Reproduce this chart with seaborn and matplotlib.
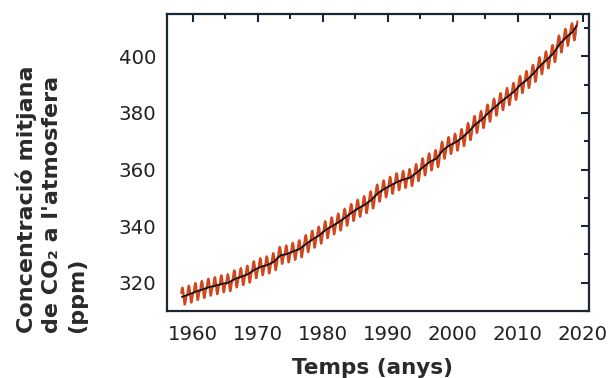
import numpy as np
import pandas as pd
import matplotlib.pyplot as plt
from matplotlib.ticker import MultipleLocator
import seaborn as sns

sns.set_theme(style="white")
plt.rcParams['font.family'] = ['DejaVu Sans']

# annual mean CO2 (ppm), Mauna Loa, 1958-2019
years = list(range(1958, 2020))
annual_mean = [315.3, 315.98, 316.91, 317.64, 318.45, 318.99, 319.62, 320.04, 321.37, 322.18,
               323.05, 324.62, 325.68, 326.32, 327.46, 329.68, 330.19, 331.12, 332.03, 333.84,
               335.41, 336.84, 338.76, 340.12, 341.48, 343.15, 344.85, 346.35, 347.61, 349.31,
               351.69, 353.20, 354.45, 355.70, 356.54, 357.21, 358.96, 360.97, 362.74, 363.88,
               366.84, 368.54, 369.71, 371.32, 373.45, 375.98, 377.70, 379.98, 382.09, 384.02,
               385.83, 387.64, 390.10, 391.85, 394.06, 396.74, 398.81, 401.01, 404.41, 406.76,
               408.72, 411.40]
# monthly offset from the annual mean (Jan..Dec)
month_offset = [-0.6, -0.4, 1.0, 2.5, 3.0, 2.4, 0.7, -1.4, -3.0, -2.9, -1.5, -0.3]
first_month = 2   # March 1958
last_month = 2    # March 2019

# black trend line points
trend_x = [1958.3] + [y + 0.5 for y in years[1:-1]] + [2019.1]
trend_y = [315.0] + annual_mean[1:-1] + [410.9]

rows = []
for i, yr in enumerate(years):
    for m in range(12):
        if yr == years[0] and m < first_month:
            continue
        if yr == years[-1] and m > last_month:
            continue
        rows.append((yr + (m + 0.5) / 12, annual_mean[i] + month_offset[m]))
monthly = pd.DataFrame(rows, columns=["time", "co2"])
trend = pd.DataFrame({"time": trend_x, "co2": trend_y})

fig, ax = plt.subplots(figsize=(6.11, 3.78), dpi=100)
fig.subplots_adjust(left=0.2733, right=0.964, top=0.963, bottom=0.1772)

sns.lineplot(data=monthly, x="time", y="co2", color="#d2461e", linewidth=1.6,
             estimator=None, sort=False, ax=ax)
sns.lineplot(data=trend, x="time", y="co2", color="#111111", linewidth=1.3,
             estimator=None, sort=False, ax=ax)

ax.set_xlim(1956, 2021)
ax.set_ylim(310, 415)
ax.xaxis.set_major_locator(MultipleLocator(10))
ax.xaxis.set_minor_locator(MultipleLocator(5))
ax.yaxis.set_major_locator(MultipleLocator(20))
ax.yaxis.set_minor_locator(MultipleLocator(10))

frame = "#1b2633"
for sp in ax.spines.values():
    sp.set_color(frame)
    sp.set_linewidth(1.6)
ax.tick_params(which="both", direction="in", top=True, right=True, color=frame,
               width=1.5, labelsize=14.2, labelcolor="#222222")
ax.tick_params(which="major", length=6)
ax.tick_params(which="minor", length=3.5)
ax.tick_params(axis="x", which="major", pad=10)
ax.tick_params(axis="y", which="major", pad=8)

ax.set_xlabel("Temps (anys)", fontsize=15.5, fontweight="bold", color="#2a2a2a")
ax.xaxis.set_label_coords(0.486, -0.158)
ax.set_ylabel("Concentració mitjana\nde CO₂ a l'atmosfera\n(ppm)", fontsize=16,
              fontweight="bold", color="#2a2a2a", ha="left", multialignment="left",
              linespacing=1.3)
ax.yaxis.set_label_coords(-0.19, -0.074)

fig.savefig("out.png", dpi=100, facecolor="white")
